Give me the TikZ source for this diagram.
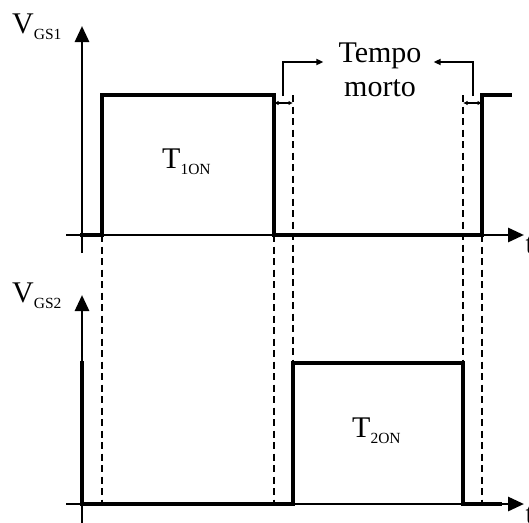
\documentclass[tikz,border=0pt]{standalone}
\usepackage{fontspec}
\setmainfont{Liberation Serif}
\usetikzlibrary{arrows.meta}
\tikzset{
  sig/.style={line width=3.8pt, line join=miter, line cap=rect},
  axis/.style={line width=2.9pt, -{Triangle[length=16pt,width=14pt]}},
  guide/.style={line width=2.9pt, dash pattern=on 7pt off 4.5pt},
  pointer/.style={line width=2.4pt, -{Triangle[length=7pt,width=6pt]}},
  dimarrow/.style={line width=1.5pt, {Latex[length=4.5pt,width=4.5pt]}-{Latex[length=4.5pt,width=4.5pt]}},
  big/.style={font=\fontsize{30}{32}\selectfont, inner sep=0pt},
}
\newcommand{\subtxt}[1]{\raisebox{-6pt}{\fontsize{15.5}{16}\selectfont #1}}
\begin{document}
\begin{tikzpicture}[x=1pt,y=-1pt]
\useasboundingbox (0,0) rectangle (529,522);
% coordinates, top plot
\coordinate (y1b) at (82,253);
\coordinate (y1t) at (82,26);
\coordinate (x1l) at (66,235);
\coordinate (x1r) at (524,235);
% coordinates, bottom plot
\coordinate (y2b) at (82,524);
\coordinate (y2t) at (82,295);
\coordinate (x2l) at (66,504);
\coordinate (x2r) at (524,504);
% axes
\draw[axis] (y1b) -- (y1t);
\draw[axis] (x1l) -- (x1r);
\draw[axis] (y2b) -- (y2t);
\draw[axis] (x2l) -- (x2r);
% guides
\draw[guide] (102,235) -- (102,504);
\draw[guide] (274,235) -- (274,504);
\draw[guide] (293,95) -- (293,363);
\draw[guide] (463,95) -- (463,363);
\draw[guide] (482,235) -- (482,504);
% signals
\draw[sig] (82,235) -- (102,235) -- (102,95) -- (274,95) -- (274,235) -- (482,235) -- (482,95) -- (510,95);
\draw[sig] (82,363) -- (82,504) -- (293,504) -- (293,363) -- (463,363) -- (463,504) -- (500,504);
% dead time markers
\coordinate (d1a) at (274,103);
\coordinate (d1b) at (293,103);
\coordinate (d2a) at (463,103);
\coordinate (d2b) at (482,103);
\draw[dimarrow] (d1a) -- (d1b);
\draw[dimarrow] (d2a) -- (d2b);
% labels
\node[big, anchor=base] (tempo) at (380,62) {Tempo};
\node[big, anchor=base] (morto) at (380,96) {morto};
\coordinate (p1) at (283,96);
\coordinate (p2) at (473,96);
\draw[pointer] (p1) |- ([xshift=-15pt]tempo.west |- 0,62);
\draw[pointer] (p2) |- ([xshift=12pt]tempo.east |- 0,62);
\node[big, anchor=base west] (v1) at (12,33) {V\subtxt{GS1}};
\node[big, anchor=base west] (v2) at (12,302) {V\subtxt{GS2}};
\node[big, anchor=base west] (t1) at (162,168) {T\subtxt{1ON}};
\node[big, anchor=base west] (t2) at (352,437) {T\subtxt{2ON}};
\node[big, anchor=base west] (tl1) at (525.5,253) {t};
\node[big, anchor=base west] (tl2) at (525.5,523) {t};
\end{tikzpicture}
\end{document}
